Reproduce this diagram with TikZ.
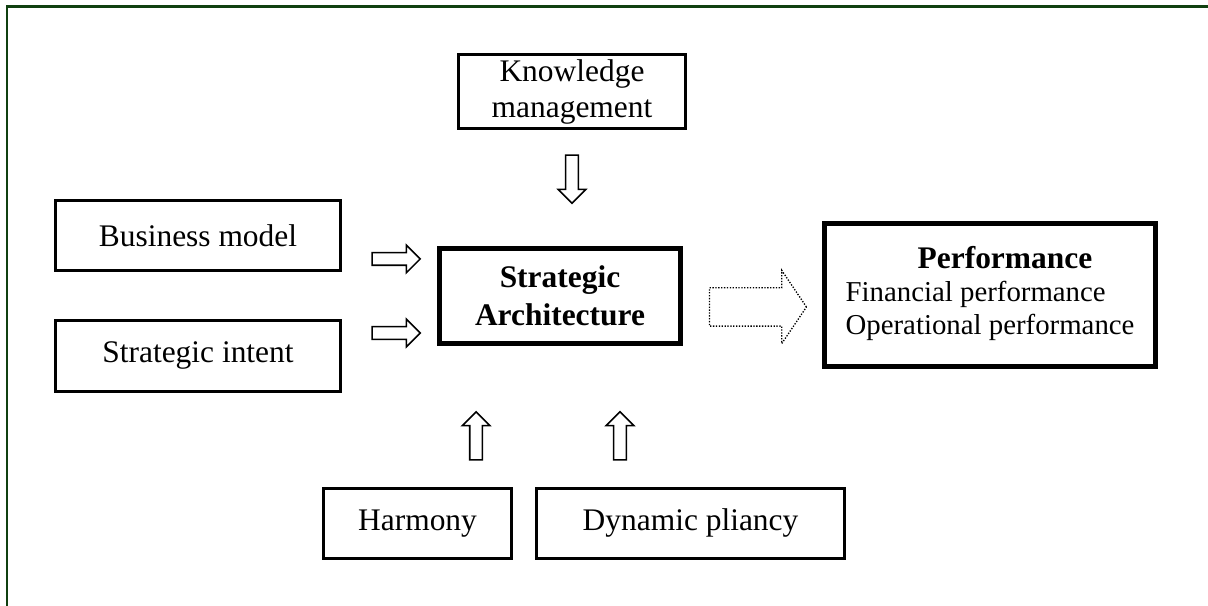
\documentclass[tikz,border=0pt]{standalone}
\usepackage{fontspec}
\setmainfont{Liberation Serif}
\usepackage{xcolor}
\usetikzlibrary{calc, shapes.arrows, positioning}
\definecolor{framegreen}{RGB}{16,64,16}

\begin{document}
\begin{tikzpicture}[
    box/.style={draw, line width=1.2pt, align=center, inner sep=0pt,
        font=\fontsize{12}{14.5}\selectfont},
    bigbox/.style={box, line width=1.6pt},
    blk/.style={draw, line width=0.6pt, single arrow, inner xsep=0pt, inner ysep=0.074cm,
        minimum height=0.644cm, single arrow head extend=0.1cm}
    ]
    \useasboundingbox (0,0) rectangle (16.205,8.129);

    % 1. Khung
    \draw[framegreen, line width=0.8pt] (0.094,0) -- (0.094,8.042) -- (16.205,8.042);

    % 2. Các ô
    \node[box, minimum width=3.82cm, minimum height=0.94cm] (bm) at (2.656,4.970) {Business model};
    \node[box, minimum width=3.82cm, minimum height=0.95cm] (si) at (2.656,3.354) {Strategic intent};
    \node[box, minimum width=3.045cm, minimum height=1.0cm,
        font=\fontsize{12}{13.8}\selectfont] (km) at (7.673,6.900) {Knowledge\\management};
    \node[bigbox, minimum width=3.233cm, minimum height=1.274cm] (sa) at (7.512,4.159) {\bfseries Strategic\\\bfseries Architecture};
    \node[box, minimum width=2.522cm, minimum height=0.939cm] (ha) at (5.601,1.107) {Harmony};
    \node[box, minimum width=4.132cm, minimum height=0.939cm] (dp) at (9.263,1.107) {Dynamic pliancy};
    \node[bigbox, minimum width=4.44cm, minimum height=1.918cm,
        font=\fontsize{11}{12.5}\selectfont] (pf) at (13.281,4.172)
        {\begin{tabular}{@{}l@{}}
            \multicolumn{1}{@{}c@{}}{\fontsize{12}{12.5}\selectfont\bfseries\hspace*{0.4cm}Performance}\\
            Financial performance\\
            Operational performance
        \end{tabular}};

    % 3. Các mũi tên
    \node[blk] (ar1) at (5.272,4.655) {};
    \node[blk] (ar2) at (5.272,3.662) {};
    \node[blk, rotate=-90] (ar3) at (7.673,5.768) {};
    \node[blk, rotate=90] (ar4) at (6.386,2.240) {};
    \node[blk, rotate=90] (ar5) at (8.317,2.240) {};
    \node[draw, line width=0.5pt, dash pattern=on 0.5pt off 0.6pt, single arrow,
        inner xsep=0pt, inner ysep=0.248cm, minimum height=1.301cm,
        single arrow head extend=0.235cm, single arrow tip angle=112] (ar6) at (10.081,4.011) {};
\end{tikzpicture}
\end{document}
